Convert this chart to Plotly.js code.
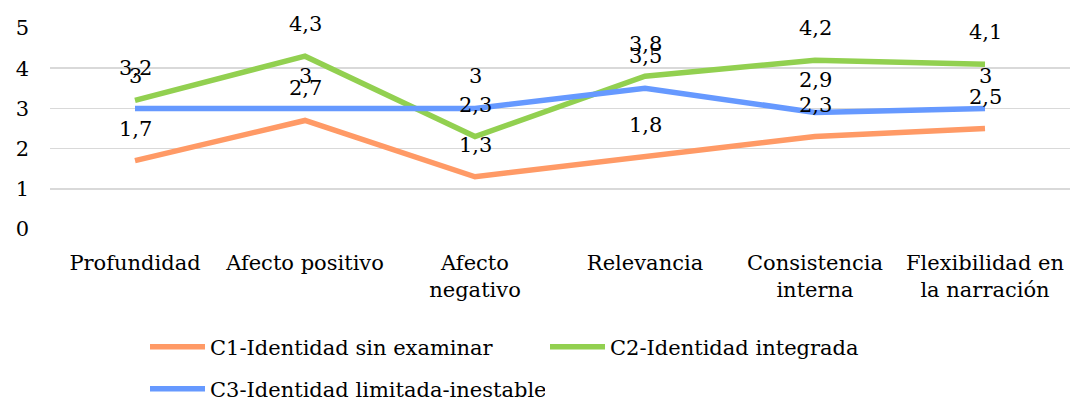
<!DOCTYPE html>
<html>
<head>
<meta charset="utf-8">
<script src="https://cdn.plot.ly/plotly-3.0.1.min.js"></script>
<style>html,body{margin:0;padding:0;background:#fff;}#chart{width:1070px;height:403px;}</style>
</head>
<body>
<div id="chart"></div>
<script>
const categories = ["Profundidad", "Afecto positivo", "Afecto<br>negativo", "Relevancia", "Consistencia<br>interna", "Flexibilidad en<br>la narración"];
const seriesNames = ["C1-Identidad sin examinar", "C2-Identidad integrada", "C3-Identidad limitada-inestable"];
const c1 = [1.7, 2.7, 1.3, 1.8, 2.3, 2.5];
const c2 = [3.2, 4.3, 2.3, 3.8, 4.2, 4.1];
const c3 = [3, 3, 3, 3.5, 2.9, 3];
const yTicks = [0, 1, 2, 3, 4, 5];

const colors = ["#FF9A66", "#92D050", "#6699FF"];
const FONT = "DejaVu Serif";
const FS = 21;
const seriesVals = [c1, c2, c3];

const traces = seriesVals.map((vals, i) => ({
  type: "scatter",
  mode: "lines",
  x: categories,
  y: vals,
  name: seriesNames[i],
  line: {color: colors[i], width: 5.5},
  legend: i === 2 ? "legend2" : "legend",
  hoverinfo: "skip"
}));

const annotations = [];
seriesVals.forEach((vals) => {
  vals.forEach((v, j) => {
    annotations.push({
      x: categories[j], y: v, xref: "x", yref: "y",
      text: String(v).replace(".", ","),
      showarrow: false, yshift: 32,
      font: {family: FONT, size: FS, color: "#000"}
    });
  });
});

const legendCommon = {
  orientation: "h",
  xref: "container", yref: "container",
  xanchor: "left", yanchor: "middle",
  font: {family: FONT, size: FS, color: "#000"},
  bgcolor: "rgba(0,0,0,0)",
  itemwidth: 55,
  entrywidthmode: "pixels",
  entrywidth: 330,
  traceorder: "normal"
};

const layout = {
  width: 1070, height: 403,
  margin: {l: 50, r: 0, t: 28, b: 174},
  paper_bgcolor: "#fff", plot_bgcolor: "#fff",
  font: {family: FONT, size: FS, color: "#000"},
  showlegend: true,
  xaxis: {
    type: "category",
    range: [-0.5, 5.5],
    showgrid: false, zeroline: false, showline: false,
    ticks: "",
    ticklabelstandoff: 19,
    tickfont: {family: FONT, size: FS, color: "#000"}
  },
  yaxis: {
    range: [0, 5],
    tickvals: yTicks,
    ticktext: yTicks.map(String),
    showgrid: true, gridcolor: "#D9D9D9", gridwidth: 1.5,
    zeroline: false, showline: false,
    ticks: "",
    ticklabelstandoff: 20,
    tickfont: {family: FONT, size: FS, color: "#000"}
  },
  legend: Object.assign({}, legendCommon, {x: 145/1070, y: 1 - 347/403}),
  legend2: Object.assign({}, legendCommon, {x: 145/1070, y: 1 - 389/403}),
  annotations: annotations
};

Plotly.newPlot("chart", traces, layout, {displayModeBar: false, staticPlot: true});
</script>
</body>
</html>
